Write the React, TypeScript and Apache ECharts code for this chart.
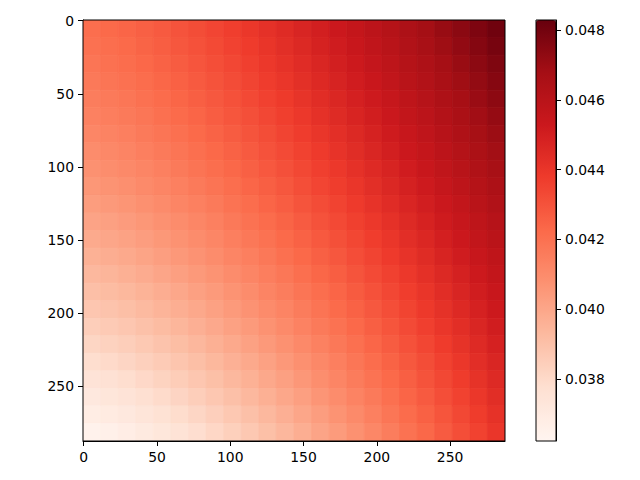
import React, { useEffect, useRef } from "react";
import * as echarts from "echarts";

// pixel indices (image coordinates) of the sampled cells, along x and along y
const sampleIdx = [6, 18, 30, 42, 54, 66, 78, 90, 102, 114, 126, 138, 150, 162, 174, 186, 198, 210, 222, 234, 246, 258, 270, 282];

const row0 = [0.04212, 0.04224, 0.0424, 0.04258, 0.04277, 0.04298, 0.0432, 0.04343, 0.04367, 0.04392, 0.04418, 0.04444, 0.04471, 0.04499, 0.04527, 0.04556, 0.04586, 0.04616, 0.04646, 0.04677, 0.04709, 0.04741, 0.04774, 0.04806];
const row1 = [0.04199, 0.04211, 0.04227, 0.04245, 0.04264, 0.04285, 0.04307, 0.04329, 0.04353, 0.04378, 0.04403, 0.04429, 0.04456, 0.04484, 0.04512, 0.04541, 0.0457, 0.046, 0.0463, 0.04661, 0.04692, 0.04724, 0.04756, 0.04789];
const row2 = [0.04185, 0.04198, 0.04213, 0.04231, 0.0425, 0.0427, 0.04292, 0.04315, 0.04338, 0.04363, 0.04388, 0.04414, 0.04441, 0.04468, 0.04496, 0.04525, 0.04554, 0.04583, 0.04613, 0.04644, 0.04675, 0.04707, 0.04739, 0.04771];
const row3 = [0.0417, 0.04183, 0.04198, 0.04216, 0.04235, 0.04255, 0.04277, 0.04299, 0.04323, 0.04347, 0.04372, 0.04398, 0.04425, 0.04452, 0.0448, 0.04508, 0.04537, 0.04567, 0.04597, 0.04627, 0.04658, 0.0469, 0.04721, 0.04754];
const row4 = [0.04154, 0.04167, 0.04182, 0.04199, 0.04218, 0.04239, 0.0426, 0.04283, 0.04306, 0.04331, 0.04356, 0.04382, 0.04408, 0.04435, 0.04463, 0.04491, 0.0452, 0.04549, 0.04579, 0.0461, 0.04641, 0.04672, 0.04704, 0.04736];
const row5 = [0.04137, 0.04149, 0.04165, 0.04182, 0.04201, 0.04222, 0.04243, 0.04266, 0.04289, 0.04313, 0.04338, 0.04364, 0.04391, 0.04418, 0.04446, 0.04474, 0.04503, 0.04532, 0.04562, 0.04592, 0.04623, 0.04655, 0.04686, 0.04718];
const row6 = [0.04119, 0.04131, 0.04147, 0.04164, 0.04183, 0.04204, 0.04225, 0.04248, 0.04271, 0.04295, 0.0432, 0.04346, 0.04373, 0.044, 0.04428, 0.04456, 0.04485, 0.04514, 0.04544, 0.04574, 0.04605, 0.04637, 0.04669, 0.04701];
const row7 = [0.04099, 0.04112, 0.04127, 0.04145, 0.04164, 0.04185, 0.04206, 0.04229, 0.04252, 0.04277, 0.04302, 0.04328, 0.04354, 0.04381, 0.04409, 0.04438, 0.04467, 0.04496, 0.04526, 0.04556, 0.04588, 0.04619, 0.04651, 0.04683];
const row8 = [0.04079, 0.04092, 0.04107, 0.04125, 0.04144, 0.04165, 0.04186, 0.04209, 0.04233, 0.04257, 0.04282, 0.04308, 0.04335, 0.04362, 0.0439, 0.04419, 0.04448, 0.04477, 0.04508, 0.04538, 0.04569, 0.04601, 0.04633, 0.04665];
const row9 = [0.04058, 0.0407, 0.04086, 0.04104, 0.04123, 0.04144, 0.04165, 0.04188, 0.04212, 0.04237, 0.04262, 0.04288, 0.04315, 0.04343, 0.04371, 0.04399, 0.04429, 0.04459, 0.04489, 0.0452, 0.04551, 0.04583, 0.04615, 0.04648];
const row10 = [0.04035, 0.04048, 0.04064, 0.04081, 0.04101, 0.04122, 0.04144, 0.04167, 0.04191, 0.04216, 0.04241, 0.04268, 0.04295, 0.04322, 0.04351, 0.0438, 0.04409, 0.04439, 0.0447, 0.04501, 0.04532, 0.04564, 0.04597, 0.0463];
const row11 = [0.04011, 0.04024, 0.0404, 0.04058, 0.04078, 0.04099, 0.04121, 0.04144, 0.04169, 0.04194, 0.04219, 0.04246, 0.04273, 0.04301, 0.0433, 0.04359, 0.04389, 0.04419, 0.0445, 0.04482, 0.04514, 0.04546, 0.04579, 0.04612];
const row12 = [0.03987, 0.04, 0.04016, 0.04034, 0.04054, 0.04075, 0.04098, 0.04121, 0.04146, 0.04171, 0.04197, 0.04224, 0.04252, 0.0428, 0.04309, 0.04339, 0.04369, 0.04399, 0.04431, 0.04462, 0.04495, 0.04527, 0.04561, 0.04594];
const row13 = [0.03961, 0.03974, 0.0399, 0.04009, 0.04029, 0.04051, 0.04073, 0.04097, 0.04122, 0.04148, 0.04174, 0.04201, 0.04229, 0.04258, 0.04287, 0.04317, 0.04348, 0.04379, 0.04411, 0.04443, 0.04475, 0.04509, 0.04542, 0.04576];
const row14 = [0.03934, 0.03947, 0.03964, 0.03983, 0.04003, 0.04025, 0.04048, 0.04072, 0.04097, 0.04123, 0.0415, 0.04178, 0.04207, 0.04236, 0.04265, 0.04296, 0.04327, 0.04358, 0.0439, 0.04423, 0.04456, 0.0449, 0.04524, 0.04558];
const row15 = [0.03906, 0.0392, 0.03936, 0.03955, 0.03976, 0.03998, 0.04022, 0.04046, 0.04072, 0.04099, 0.04126, 0.04154, 0.04183, 0.04212, 0.04243, 0.04274, 0.04305, 0.04337, 0.0437, 0.04403, 0.04437, 0.04471, 0.04505, 0.0454];
const row16 = [0.03877, 0.03891, 0.03908, 0.03927, 0.03948, 0.03971, 0.03995, 0.0402, 0.04046, 0.04073, 0.04101, 0.04129, 0.04159, 0.04189, 0.0422, 0.04251, 0.04283, 0.04316, 0.04349, 0.04383, 0.04417, 0.04452, 0.04487, 0.04523];
const row17 = [0.03847, 0.03861, 0.03878, 0.03898, 0.0392, 0.03943, 0.03967, 0.03992, 0.04019, 0.04046, 0.04075, 0.04104, 0.04134, 0.04165, 0.04196, 0.04228, 0.04261, 0.04294, 0.04328, 0.04362, 0.04397, 0.04432, 0.04468, 0.04505];
const row18 = [0.03815, 0.0383, 0.03848, 0.03868, 0.0389, 0.03913, 0.03938, 0.03964, 0.03991, 0.04019, 0.04048, 0.04078, 0.04108, 0.0414, 0.04172, 0.04204, 0.04238, 0.04271, 0.04306, 0.04341, 0.04377, 0.04413, 0.04449, 0.04487];
const row19 = [0.03783, 0.03798, 0.03816, 0.03837, 0.03859, 0.03883, 0.03908, 0.03935, 0.03963, 0.03991, 0.04021, 0.04051, 0.04082, 0.04114, 0.04147, 0.0418, 0.04214, 0.04249, 0.04284, 0.0432, 0.04356, 0.04393, 0.04431, 0.04469];
const row20 = [0.0375, 0.03765, 0.03783, 0.03804, 0.03827, 0.03852, 0.03878, 0.03905, 0.03933, 0.03962, 0.03993, 0.04024, 0.04056, 0.04088, 0.04122, 0.04156, 0.04191, 0.04226, 0.04262, 0.04299, 0.04336, 0.04374, 0.04412, 0.04451];
const row21 = [0.03715, 0.03731, 0.0375, 0.03771, 0.03795, 0.0382, 0.03846, 0.03874, 0.03903, 0.03933, 0.03964, 0.03996, 0.04028, 0.04062, 0.04096, 0.04131, 0.04166, 0.04203, 0.0424, 0.04277, 0.04315, 0.04354, 0.04393, 0.04433];
const row22 = [0.0368, 0.03695, 0.03715, 0.03737, 0.03761, 0.03787, 0.03814, 0.03842, 0.03872, 0.03902, 0.03934, 0.03967, 0.04, 0.04034, 0.0407, 0.04105, 0.04142, 0.04179, 0.04217, 0.04255, 0.04294, 0.04334, 0.04374, 0.04414];
const row23 = [0.03643, 0.03659, 0.03679, 0.03702, 0.03726, 0.03753, 0.0378, 0.0381, 0.0384, 0.03871, 0.03904, 0.03937, 0.03972, 0.04007, 0.04043, 0.04079, 0.04117, 0.04155, 0.04194, 0.04233, 0.04273, 0.04314, 0.04355, 0.04396];
const rows = [row0, row1, row2, row3, row4, row5, row6, row7, row8, row9, row10, row11, row12, row13, row14, row15, row16, row17, row18, row19, row20, row21, row22, row23];

const vMin = 0.03622;
const vMax = 0.04829;

const axisTicks = [0, 50, 100, 150, 200, 250];
const colorbarTicks = [0.038, 0.04, 0.042, 0.044, 0.046, 0.048];

const reds = ["#fff5f0", "#fee0d2", "#fcbba1", "#fc9272", "#fb6a4a", "#ef3b2c", "#cb181d", "#a50f15", "#67000d"];

const FONT = "DejaVu Sans";
const FS = 13.9;

export default function App() {
  const ref = useRef<HTMLDivElement>(null);

  useEffect(() => {
    if (!ref.current) return;
    const chart = echarts.init(ref.current, null, { renderer: "svg" });

    const data: number[][] = [];
    rows.forEach((row, ri) => {
      row.forEach((v, ci) => {
        data.push([sampleIdx[ci], sampleIdx[ri], v]);
      });
    });

    // each sample covers 12 image pixels: [idx - 6.5, idx + 5.5]
    const before = 6.5;
    const after = 5.5;

    const baseAxis = (gridIndex: number) => ({
      type: "value" as const,
      gridIndex,
      min: -0.5,
      max: 287.5,
      splitLine: { show: false },
      axisLine: { show: true, onZero: false, lineStyle: { color: "#000", width: 1 } },
      axisTick: { show: true, customValues: axisTicks, length: 5, lineStyle: { color: "#000", width: 1 } },
      axisLabel: { customValues: axisTicks, color: "#000", fontFamily: FONT, fontSize: FS, margin: 9 },
    });

    chart.setOption({
      animation: false,
      backgroundColor: "#fff",
      grid: [
        { left: 83, top: 20, width: 422, height: 421, containLabel: false },
        { left: 536, top: 20, width: 20, height: 421, containLabel: false },
      ],
      xAxis: [
        { ...baseAxis(0), position: "bottom" },
        { type: "value", gridIndex: 1, min: 0, max: 1, show: false },
      ],
      yAxis: [
        { ...baseAxis(0), inverse: true, position: "left" },
        {
          type: "value",
          gridIndex: 1,
          position: "right",
          min: vMin,
          max: vMax,
          splitLine: { show: false },
          axisLine: { show: true, onZero: false, lineStyle: { color: "#000", width: 1 } },
          axisTick: { show: true, customValues: colorbarTicks, length: 5, lineStyle: { color: "#000", width: 1 } },
          axisLabel: {
            customValues: colorbarTicks,
            color: "#000",
            fontFamily: FONT,
            fontSize: FS,
            margin: 9,
            formatter: (v: number) => v.toFixed(3),
          },
        },
      ],
      visualMap: {
        type: "continuous",
        min: vMin,
        max: vMax,
        dimension: 2,
        seriesIndex: 0,
        orient: "vertical",
        left: 536,
        top: 20,
        itemWidth: 20,
        itemHeight: 421,
        padding: 0,
        calculable: false,
        hoverLink: false,
        inRange: { color: reds },
      },
      graphic: [
        {
          type: "rect",
          z: 100,
          silent: true,
          shape: { x: 83, y: 20, width: 422, height: 421 },
          style: { fill: "none", stroke: "#000", lineWidth: 1 },
        },
        {
          type: "rect",
          z: 100,
          silent: true,
          shape: { x: 536, y: 20, width: 20, height: 421 },
          style: { fill: "none", stroke: "#000", lineWidth: 1 },
        },
      ],
      series: [
        {
          type: "custom",
          coordinateSystem: "cartesian2d",
          xAxisIndex: 0,
          yAxisIndex: 0,
          clip: true,
          encode: { x: 0, y: 1 },
          data,
          renderItem: (params: any, api: any) => {
            const cx = api.value(0);
            const cy = api.value(1);
            const p0 = api.coord([cx - before, cy - before]);
            const p1 = api.coord([cx + after, cy + after]);
            const color = api.visual("color");
            return {
              type: "rect",
              shape: {
                x: Math.min(p0[0], p1[0]),
                y: Math.min(p0[1], p1[1]),
                width: Math.abs(p1[0] - p0[0]),
                height: Math.abs(p1[1] - p0[1]),
              },
              style: { fill: color, stroke: color, lineWidth: 0.8 },
            };
          },
        },
      ],
    });

    return () => chart.dispose();
  }, []);

  return (
    <div
      ref={ref}
      style={{ position: "absolute", left: 0, top: 0, width: 640, height: 480 }}
    />
  );
}
